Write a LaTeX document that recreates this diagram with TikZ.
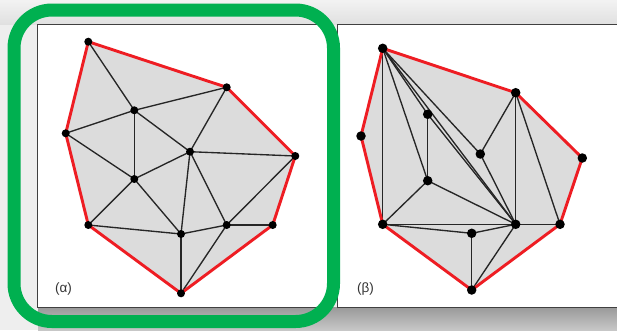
\documentclass[tikz,border=0pt]{standalone}
\usepackage{fontspec}
\setmainfont{Liberation Sans}
\usetikzlibrary{backgrounds}
\definecolor{HullRed}{HTML}{EE1D23}
\definecolor{FrameGreen}{HTML}{00B050}
\definecolor{MeshGray}{HTML}{DCDCDC}
\definecolor{PageGray}{HTML}{EEEEEE}
\definecolor{LabelGray}{HTML}{333333}

\begin{document}
\begin{tikzpicture}[x=1pt,y=-1pt,
      every node/.style={font=\fontsize{13.5}{16}\selectfont},
      vertex/.style={circle,fill=black,inner sep=0pt,minimum size=8pt},
      bigvertex/.style={vertex,minimum size=9.5pt},
      hull/.style={HullRed,line width=2.9pt,line join=round},
      edge/.style={black!85,line width=1.35pt},
      panel/.style={fill=white,draw=black!75,line width=0.9pt}
    ]
      \useasboundingbox (0,0) rectangle (617,330);

      % left triangulation (alpha)
      \node[vertex] (a1) at (88.3,41.7) {};
      \node[vertex] (a2) at (226.7,87.3) {};
      \node[vertex] (a3) at (134.3,110.3) {};
      \node[vertex] (a4) at (65.7,133.3) {};
      \node[vertex] (a5) at (190,151.7) {};
      \node[vertex] (a6) at (295.3,156) {};
      \node[vertex] (a7) at (134.3,179) {};
      \node[vertex] (a8) at (88.3,225) {};
      \node[vertex] (a9) at (181,234) {};
      \node[vertex] (a10) at (226.7,225) {};
      \node[vertex] (a11) at (272.7,225) {};
      \node[vertex] (a12) at (181,293.3) {};

      % right triangulation (beta)
      \node[bigvertex] (b1) at (382.7,48.3) {};
      \node[bigvertex] (b2) at (515.7,92.7) {};
      \node[bigvertex] (b3) at (361,136) {};
      \node[bigvertex] (b4) at (427.7,114.3) {};
      \node[bigvertex] (b5) at (480.3,154) {};
      \node[bigvertex] (b6) at (582.3,158) {};
      \node[bigvertex] (b7) at (427.7,180.7) {};
      \node[bigvertex] (b8) at (382.7,224.3) {};
      \node[bigvertex] (b9) at (471.7,233.3) {};
      \node[bigvertex] (b10) at (515.7,224.3) {};
      \node[bigvertex] (b11) at (560,224.3) {};
      \node[bigvertex] (b12) at (471.7,290) {};

      \node[text=LabelGray] (alab) at (63.5,289) {(α)};
      \node[text=LabelGray] (blab) at (365.5,289) {(β)};

      \begin{scope}[on background layer]
        % page, shadows and panels
        \fill[PageGray] (0,0) rectangle (617,330);
        \shade[top color=black!5,bottom color=black!12] (0,0) rectangle (617,24);
        \shade[top color=black!40,bottom color=black!22] (38,307) rectangle (617,330);
        \filldraw[panel] (37.7,24) rectangle (327.7,307.5);
        \filldraw[panel] (337.3,24) rectangle (620,307.5);

        \fill[MeshGray] (a1.center) -- (a2.center) -- (a6.center) -- (a11.center)
          -- (a12.center) -- (a8.center) -- (a4.center) -- cycle;
        \fill[MeshGray] (b1.center) -- (b2.center) -- (b6.center) -- (b11.center)
          -- (b12.center) -- (b8.center) -- (b3.center) -- cycle;

        \foreach \from/\to in {a1/a3,a3/a2,a3/a4,a3/a7,a3/a5,a2/a5,a5/a6,
            a4/a7,a7/a5,a7/a8,a7/a9,a5/a9,a5/a10,a6/a10,a10/a11,a8/a9,
            a9/a10,a9/a12,a10/a12}
          \draw[edge] (\from.center) -- (\to.center);
        \foreach \from/\to in {b1/b8,b1/b7,b1/b4,b1/b10,b1/b5,b4/b10,b4/b7,
            b5/b10,b5/b2,b2/b10,b2/b11,b7/b8,b7/b10,b8/b10,b8/b9,b9/b10,
            b9/b12,b10/b12,b10/b11}
          \draw[edge] (\from.center) -- (\to.center);

        \draw[hull] (a1.center) -- (a2.center) -- (a6.center) -- (a11.center)
          -- (a12.center) -- (a8.center) -- (a4.center) -- cycle;
        \draw[hull] (b1.center) -- (b2.center) -- (b6.center) -- (b11.center)
          -- (b12.center) -- (b8.center) -- (b3.center) -- cycle;
      \end{scope}

      \draw[FrameGreen,line width=13pt,rounded corners=38pt]
        (14,10) rectangle (333.5,321.5);
    \end{tikzpicture}
\end{document}
